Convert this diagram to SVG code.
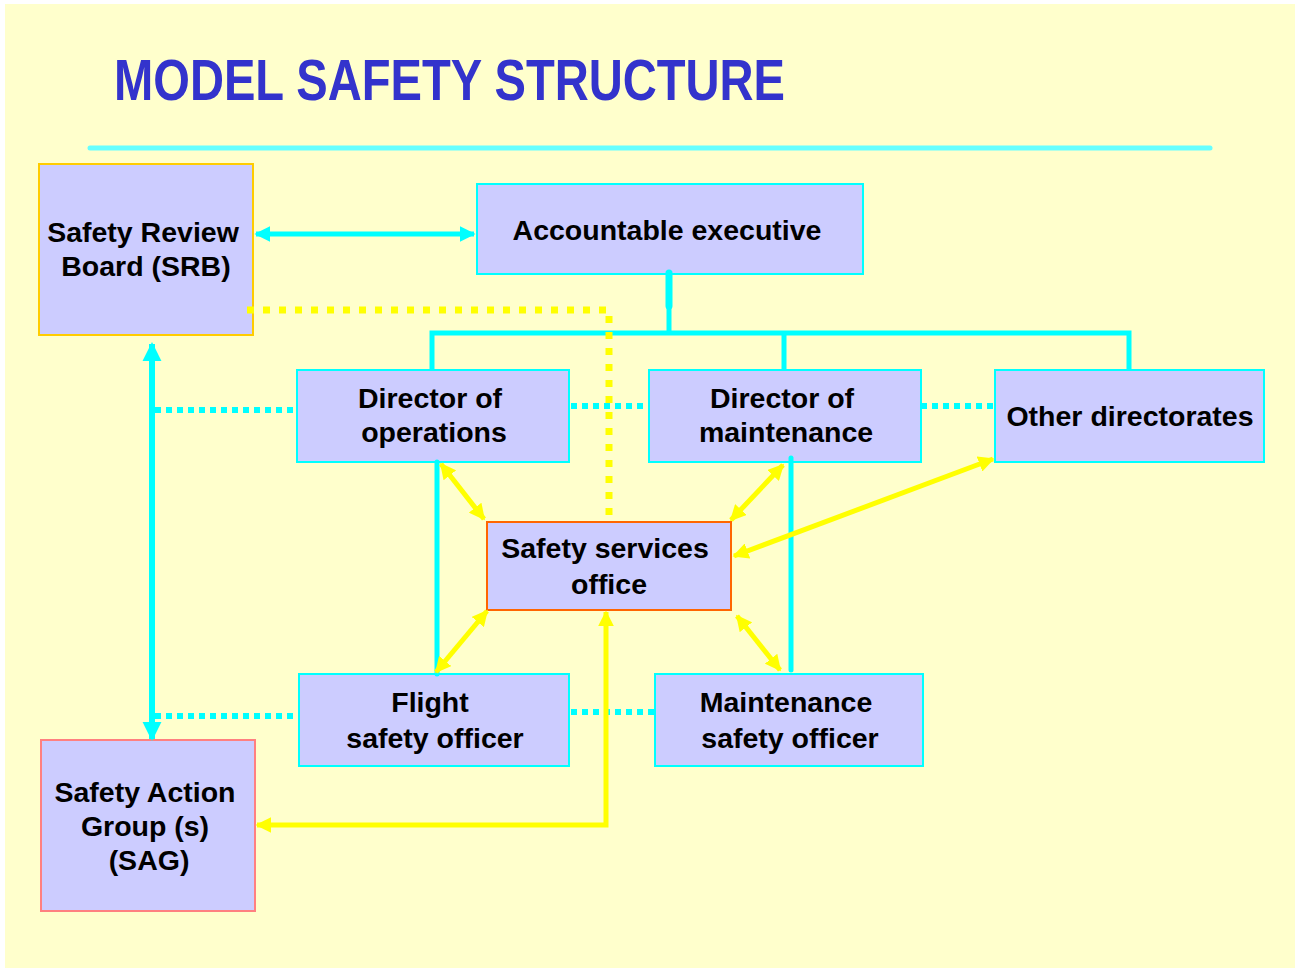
<svg xmlns="http://www.w3.org/2000/svg" width="1303" height="968" viewBox="0 0 1303 968">
  <defs>
    <style>
      .box { fill: #CCCCFF; stroke: #00FFFF; stroke-width: 2; }
      .lbl { font-family: "Liberation Sans", Arial, sans-serif; font-weight: bold; font-size: 28.5px; fill: #000; text-anchor: middle; }
      .cy { stroke: #00FFFF; stroke-width: 5; fill: none; }
      .cydot { stroke: #00FFFF; stroke-width: 6; fill: none; stroke-dasharray: 6 5; }
      .ye { stroke: #FFFF00; stroke-width: 5; fill: none; }
      .yedot { stroke: #FFFF00; stroke-width: 7; fill: none; stroke-dasharray: 7 9; }
    </style>
    <marker id="cyArrow" viewBox="0 0 10 10" refX="9" refY="5" markerWidth="3.2" markerHeight="3.2" orient="auto-start-reverse" markerUnits="strokeWidth">
      <path d="M0,0 L10,5 L0,10 Z" fill="#00FFFF"/>
    </marker>
    <marker id="yeArrow" viewBox="0 0 10 10" refX="9" refY="5" markerWidth="3.2" markerHeight="3.2" orient="auto-start-reverse" markerUnits="strokeWidth">
      <path d="M0,0 L10,5 L0,10 Z" fill="#FFFF00"/>
    </marker>
  </defs>

  <!-- page -->
  <rect x="0" y="0" width="1303" height="968" fill="#FFFFFF"/>
  <rect x="5" y="4" width="1290" height="964" fill="#FFFFCC"/>

  <!-- heading -->
  <text x="114" y="100" font-family="'Liberation Sans Narrow', 'Liberation Sans', Arial, sans-serif" font-weight="bold" font-size="58" fill="#3333CC" textLength="671" lengthAdjust="spacingAndGlyphs">MODEL SAFETY STRUCTURE</text>
  <line x1="90" y1="148" x2="1210" y2="148" stroke="#66FFFF" stroke-width="5" stroke-linecap="round"/>

  <!-- nodes -->
  <g id="srb">
    <rect class="box" x="39" y="164" width="214" height="171" style="stroke:#FFCC00"/>
    <text class="lbl" x="143" y="242">Safety Review</text>
    <text class="lbl" x="146" y="276">Board (SRB)</text>
  </g>
  <g id="accountable-executive">
    <rect class="box" x="477" y="184" width="386" height="90"/>
    <text class="lbl" x="667" y="240">Accountable executive</text>
  </g>
  <g id="director-operations">
    <rect class="box" x="297" y="370" width="272" height="92"/>
    <text class="lbl" x="430" y="408">Director of</text>
    <text class="lbl" x="434" y="442">operations</text>
  </g>
  <g id="director-maintenance">
    <rect class="box" x="649" y="370" width="272" height="92"/>
    <text class="lbl" x="782" y="408">Director of</text>
    <text class="lbl" x="786" y="442">maintenance</text>
  </g>
  <g id="other-directorates">
    <rect class="box" x="995" y="370" width="269" height="92"/>
    <text class="lbl" x="1130" y="426">Other directorates</text>
  </g>
  <g id="safety-services-office">
    <rect class="box" x="487" y="522" width="244" height="88" style="stroke:#FF6600"/>
    <text class="lbl" x="605" y="558">Safety services</text>
    <text class="lbl" x="609" y="594">office</text>
  </g>
  <g id="flight-safety-officer">
    <rect class="box" x="299" y="674" width="270" height="92"/>
    <text class="lbl" x="430" y="712">Flight</text>
    <text class="lbl" x="435" y="748">safety officer</text>
  </g>
  <g id="maintenance-safety-officer">
    <rect class="box" x="655" y="674" width="268" height="92"/>
    <text class="lbl" x="786" y="712">Maintenance</text>
    <text class="lbl" x="790" y="748">safety officer</text>
  </g>
  <g id="sag">
    <rect class="box" x="41" y="740" width="214" height="171" style="stroke:#FF8080"/>
    <text class="lbl" x="145" y="802">Safety Action</text>
    <text class="lbl" x="145" y="836">Group (s)</text>
    <text class="lbl" x="149" y="870">(SAG)</text>
  </g>

  <!-- connectors -->
  <g id="connectors">
    <!-- reporting tree -->
    <line x1="669" y1="273" x2="669" y2="306" stroke="#00FFFF" stroke-width="7" stroke-linecap="round"/>
    <line class="cy" x1="669" y1="300" x2="669" y2="333"/>
    <polyline class="cy" points="432,369 432,333 1129,333 1129,369"/>
    <line class="cy" x1="784" y1="333" x2="784" y2="369"/>

    <!-- SRB to accountable executive -->
    <line class="cy" x1="256" y1="234" x2="474" y2="234" marker-start="url(#cyArrow)" marker-end="url(#cyArrow)"/>
    <!-- SRB to SAG -->
    <line x1="152" y1="344" x2="152" y2="739" stroke="#00FFFF" stroke-width="6" marker-start="url(#cyArrow)" marker-end="url(#cyArrow)"/>

    <!-- director to officer lines -->
    <line class="cy" x1="437" y1="462" x2="437" y2="674" stroke-linecap="round"/>
    <line class="cy" x1="791" y1="458" x2="791" y2="670" stroke-linecap="round"/>

    <!-- dotted liaison lines -->
    <line class="cydot" x1="155" y1="410" x2="297" y2="410"/>
    <line class="cydot" x1="571" y1="406" x2="649" y2="406"/>
    <line class="cydot" x1="921" y1="406" x2="995" y2="406"/>
    <line class="cydot" x1="155" y1="716" x2="299" y2="716"/>
    <line class="cydot" x1="571" y1="712" x2="655" y2="712"/>

    <!-- SRB to safety services office -->
    <polyline class="yedot" points="247,310 609,310 609,521"/>

    <!-- safety services office links -->
    <line class="ye" x1="441" y1="464" x2="484" y2="519" marker-start="url(#yeArrow)" marker-end="url(#yeArrow)"/>
    <line class="ye" x1="783" y1="465" x2="731" y2="520" marker-start="url(#yeArrow)" marker-end="url(#yeArrow)"/>
    <line class="ye" x1="993" y1="459" x2="734" y2="556" marker-start="url(#yeArrow)" marker-end="url(#yeArrow)"/>
    <line class="ye" x1="487" y1="611" x2="436" y2="672" marker-start="url(#yeArrow)" marker-end="url(#yeArrow)"/>
    <line class="ye" x1="737" y1="616" x2="780" y2="670" marker-start="url(#yeArrow)" marker-end="url(#yeArrow)"/>
    <polyline class="ye" points="606,612 606,825 257,825" marker-start="url(#yeArrow)" marker-end="url(#yeArrow)"/>
  </g>
</svg>
